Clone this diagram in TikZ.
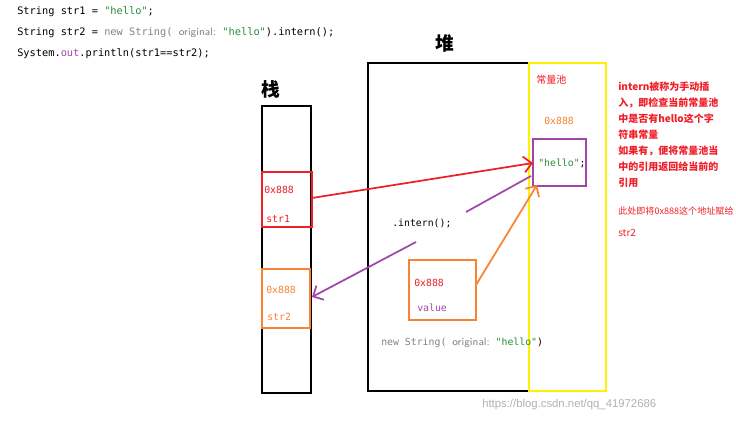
\documentclass[tikz,border=0pt]{standalone}
\usetikzlibrary{arrows.meta}
\usepackage{fontspec}
\setmainfont{Liberation Sans}
\setmonofont{DejaVu Sans Mono}[Scale=0.9]
\newfontfamily\cjk{Noto Sans CJK SC}
\definecolor{pur}{RGB}{160,70,170}
\definecolor{org}{RGB}{250,130,50}
\definecolor{rd}{RGB}{240,30,40}
\definecolor{grn}{RGB}{40,140,60}
\definecolor{gry}{RGB}{130,130,130}
\begin{document}
\begin{tikzpicture}[x=0.75pt,y=-0.75pt,
  code/.style={anchor=west,font=\ttfamily\fontsize{8.6}{10}\selectfont,inner sep=0},
  sm/.style={code,font=\ttfamily\fontsize{8.2}{9}\selectfont},
  note/.style={anchor=west,font=\cjk\fontsize{7.5}{9}\selectfont,text=rd,inner sep=0},
  big/.style={font=\cjk\bfseries\fontsize{14}{16}\selectfont,inner sep=0},
  arr/.style={line width=1.3pt,-{Straight Barb[length=6pt]}}]
\useasboundingbox[fill=white] (0,0) rectangle (736,424);
\node[code] (l1) at (17,12) {String str1 = \textcolor{grn}{"hello"};};
\node[code] (l2) at (17,33) {String str2 = \textcolor{gry}{new String(} \textcolor{gry}{\sffamily\footnotesize original:} \textcolor{grn}{"hello"}).intern();};
\node[code] (l3) at (17,54) {System.\textcolor{pur}{out}.println(str1==str2);};
\node[big] (zhan) at (271,89) {栈};
\node[big] (dui) at (445,43) {堆};
\draw[line width=1.2pt] (262,106) rectangle (311,393);
\draw[rd,line width=1.2pt] (262,172) rectangle (312,227);
\coordinate (s1e) at (312,198);
\node[sm,text=rd] (s1a) at (264,190) {0x888};
\node[sm,text=rd] (s1b) at (266,219) {str1};
\draw[org,line width=1.2pt] (262,269) rectangle (310,328);
\coordinate (s2e) at (312,297);
\node[sm,text=org] (s2a) at (266,290) {0x888};
\node[sm,text=org] (s2b) at (267,317) {str2};
\draw[line width=1.2pt] (368,63) rectangle (529,391);
\draw[yellow,line width=1.5pt] (529,63) rectangle (606,391);
\node[note] (pool) at (536,80) {常量池};
\node[sm,text=org] (p0) at (544,121) {0x888};
\draw[pur,line width=1.5pt] (533,139) rectangle (586,186);
\node[sm] (hello) at (538,163) {\textcolor{grn}{"hello"};};
\coordinate (hin) at (533,163);
\coordinate (hout) at (531,176);
\coordinate (hin2) at (537,185);
\coordinate (g1) at (466,212);
\coordinate (g2) at (416,242);
\draw[rd,arr] (s1e) -- (hin);
\draw[pur,line width=1.3pt] (hout) -- (g1);
\draw[pur,arr] (g2) -- (s2e);
\node[sm] (intern) at (392,223) {.intern();};
\draw[org,line width=1.3pt] (409,260) rectangle (476,320);
\coordinate (vo) at (476,285);
\node[sm,text=rd] (v1) at (414,283) {0x888};
\node[sm,text=pur] (v2) at (417,308) {value};
\draw[org,arr] (vo) -- (hin2);
\node[sm,text=gry] (ns) at (381,343) {new String( {\sffamily\footnotesize original:} \textcolor{grn}{"hello"}\textcolor{black}{)}};
\node[note,align=left,anchor=north west,font=\cjk\bfseries\fontsize{7.5}{12}\selectfont] (n1) at (618,82) {intern被称为手动插\\入，即检查当前常量池\\中是否有hello这个字\\符串常量\\如果有，便将常量池当\\中的引用返回给当前的\\引用};
\node[note,font=\cjk\fontsize{6.8}{8}\selectfont] (n2) at (618,211) {此处即将0x888这个地址赋给};
\node[note] (n3) at (618,233) {str2};
\node[anchor=west,inner sep=0,text=gray!60,font=\fontsize{8.5}{10}\selectfont] (wm) at (482,405) {https://blog.csdn.net/qq\_41972686};
\end{tikzpicture}
\end{document}
